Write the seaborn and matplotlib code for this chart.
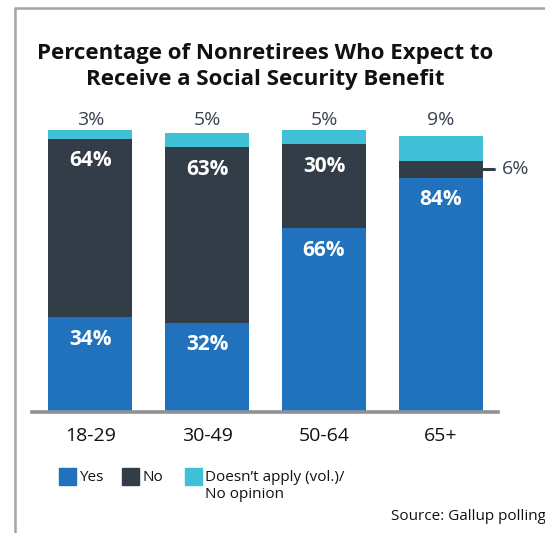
import matplotlib
matplotlib.use("Agg")
import matplotlib.pyplot as plt
from matplotlib.lines import Line2D
import seaborn as sns
import pandas as pd

# Survey results by age group (percent)
age_groups = ["18-29", "30-49", "50-64", "65+"]
yes_pct = [34, 32, 66, 84]
no_pct = [64, 63, 30, 6]
other_pct = [3, 5, 5, 9]
series_names = ["Yes", "No", "Doesn\u2019t apply (vol.)/\nNo opinion"]

BLUE = "#1f72bb"
DARK = "#333d48"
CYAN = "#3fc0d6"
TEXT_GRAY = "#3a4450"

sns.set_theme(style="white")
plt.rcParams["font.family"] = ["Open Sans", "DejaVu Sans"]

df = pd.DataFrame({"age": age_groups, "yes": yes_pct, "no": no_pct, "other": other_pct})
df["yes_no"] = df["yes"] + df["no"]
df["total"] = df["yes_no"] + df["other"]

fig = plt.figure(figsize=(5.45, 5.33), dpi=100)
ax = fig.add_axes([0.0587, 0.227, 0.855, 0.534])

# Stacked bars drawn as overlapping cumulative totals
width = 0.72
for col, colour in [("total", CYAN), ("yes_no", DARK), ("yes", BLUE)]:
    sns.barplot(data=df, x="age", y=col, color=colour, width=width, ax=ax,
                saturation=1, linewidth=0, edgecolor="none")

ax.set_xlim(-0.5, 3.49)
ax.set_ylim(0, 102)
ax.set_xlabel("")
ax.set_ylabel("")
ax.set_yticks([])
for s in ["top", "right", "left"]:
    ax.spines[s].set_visible(False)
ax.spines["bottom"].set_color("#8e9296")
ax.spines["bottom"].set_linewidth(2.6)
ax.tick_params(axis="x", length=0, pad=11, labelsize=14, labelcolor="#111111")

# Segment labels
for i, row in df.iterrows():
    ax.annotate(f"{row['yes']}%", (i, row["yes"]), xytext=(0, -16), textcoords="offset points",
                ha="center", va="center", color="white", fontsize=15, fontweight="bold")
    if row["no"] >= 10:
        ax.annotate(f"{row['no']}%", (i, row["yes_no"]), xytext=(0, -16), textcoords="offset points",
                    ha="center", va="center", color="white", fontsize=15, fontweight="bold")
    else:
        mid = row["yes"] + row["no"] / 2
        ax.plot([i + width / 2, i + width / 2 + 0.1], [mid, mid], color=DARK, lw=2.2, clip_on=False)
        ax.text(i + width / 2 + 0.16, mid, f"{row['no']}%", ha="left", va="center",
                color=TEXT_GRAY, fontsize=14, clip_on=False)
    ax.text(i, 104.6, f"{row['other']}%", ha="center", va="center", color=TEXT_GRAY,
            fontsize=14, clip_on=False)

# Title
fig.text(0.487, 0.876, "Percentage of Nonretirees Who Expect to\nReceive a Social Security Benefit",
         ha="center", va="center", fontsize=16, fontweight="bold", color="#111111",
         linespacing=1.32)

# Legend
legend_colors = [BLUE, DARK, CYAN]
legend_x = [59, 122, 185]
for name, col, lx in zip(series_names, legend_colors, legend_x):
    fig.patches.append(plt.Rectangle((lx / 545, 1 - 485 / 533), 17 / 545, 17 / 533,
                                     transform=fig.transFigure, color=col, figure=fig))
    fig.text((lx + 20) / 545, 1 - 470 / 533, name, ha="left", va="top", fontsize=11,
             color="#111111", linespacing=1.2)

# Source note
fig.text(391 / 545, 1 - 516 / 533, "Source: Gallup polling", ha="left", va="center",
         fontsize=11, color="#111111")

# Frame lines
frame_col = "#a2a6aa"
fig.add_artist(Line2D([15 / 545, 15 / 545], [0, 1 - 8 / 533], transform=fig.transFigure,
                      color=frame_col, lw=1.8))
fig.add_artist(Line2D([15 / 545, 1], [1 - 8 / 533, 1 - 8 / 533], transform=fig.transFigure,
                      color=frame_col, lw=1.8))

fig.savefig("out.png", dpi=100)
